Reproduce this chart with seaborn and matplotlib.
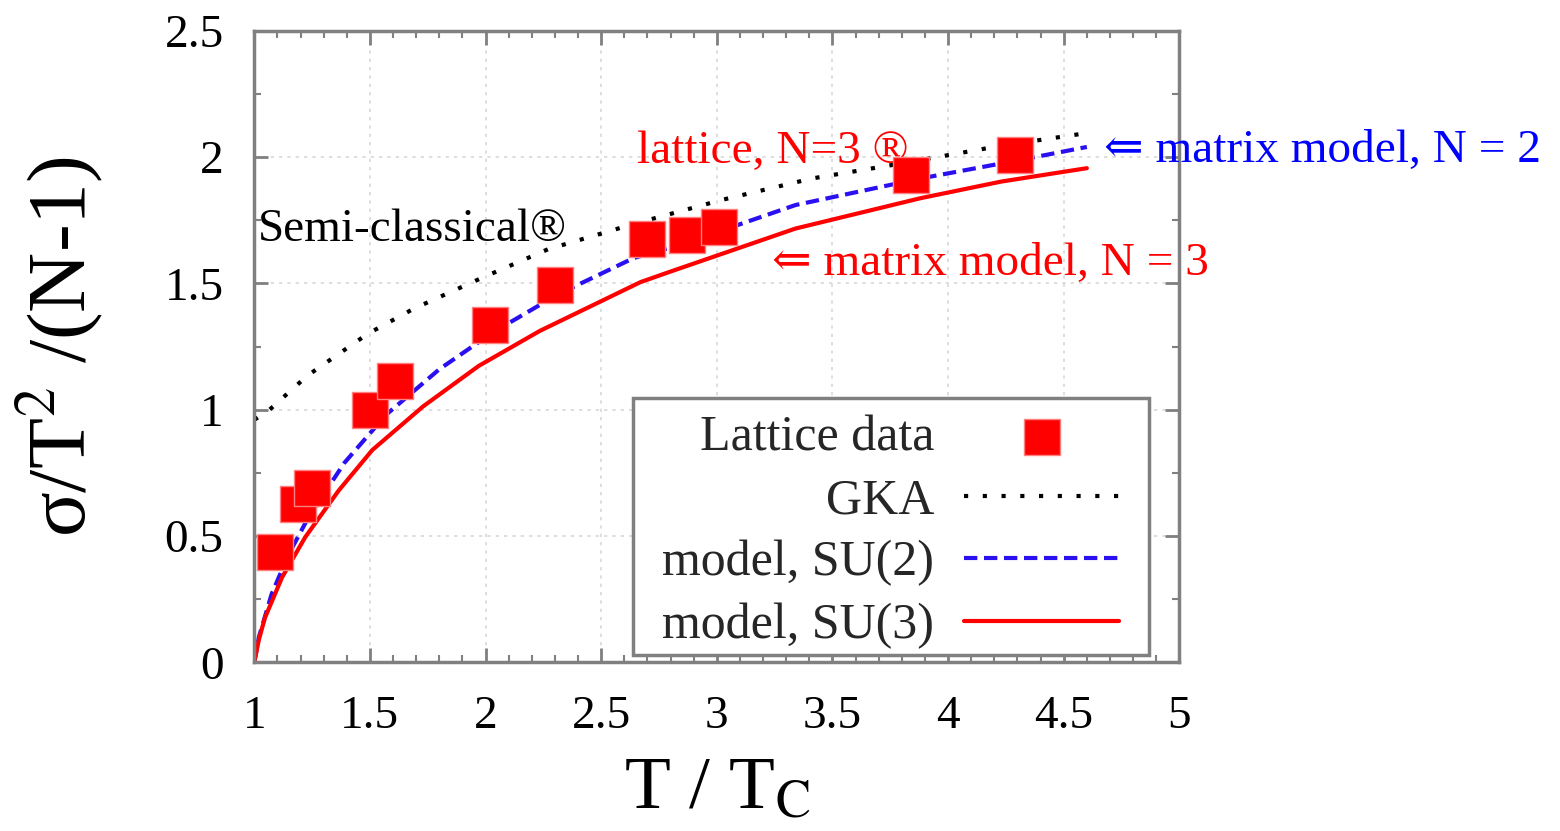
import numpy as np
import pandas as pd
import matplotlib
matplotlib.use("Agg")
import matplotlib.pyplot as plt
import seaborn as sns
from matplotlib.patches import Rectangle
from matplotlib.ticker import MultipleLocator

# lattice data points
lat_x = [1.09, 1.19, 1.25, 1.50, 1.61, 2.02, 2.30, 2.70, 2.87, 3.01, 3.84, 4.29]
lat_y = [0.435, 0.625, 0.69, 1.00, 1.115, 1.335, 1.495, 1.675, 1.69, 1.725, 1.93, 2.01]

# GKA (semi-classical) curve
gka_x = [1.0, 1.06, 1.23, 1.49, 1.69, 1.98, 2.27, 2.64, 3.02, 3.41, 3.80, 4.23, 4.6]
gka_y = [0.96, 0.995, 1.135, 1.30, 1.40, 1.52, 1.635, 1.735, 1.83, 1.915, 1.975, 2.045, 2.095]

# matrix model SU(2)
su2_x = [1.0, 1.02, 1.075, 1.15, 1.235, 1.39, 1.57, 1.8, 2.03, 2.31, 2.64, 2.85, 3.34, 3.88, 4.32, 4.6]
su2_y = [0.0, 0.10, 0.27, 0.43, 0.575, 0.79, 0.98, 1.16, 1.305, 1.455, 1.60, 1.655, 1.81, 1.915, 1.99, 2.04]

# matrix model SU(3)
su3_x = [1.0, 1.02, 1.046, 1.12, 1.22, 1.365, 1.51, 1.73, 1.97, 2.235, 2.67, 2.81, 3.34, 3.88, 4.23, 4.6]
su3_y = [0.0, 0.09, 0.176, 0.336, 0.495, 0.68, 0.84, 1.013, 1.173, 1.312, 1.505, 1.55, 1.717, 1.837, 1.903, 1.956]

sns.set_style("ticks")
plt.rcParams["font.family"] = ["Liberation Serif", "DejaVu Serif"]
plt.rcParams["mathtext.fontset"] = "stix"

RED = "#ff0000"
BLUE = "#2a10f0"
GRAY = "#808080"

fig = plt.figure(figsize=(15.6, 8.31), dpi=100)
ax = fig.add_axes([0.163, 0.203, 0.593, 0.760])

sns.lineplot(x=gka_x, y=gka_y, ax=ax, color="black", lw=3,
             linestyle=(0, (1, 3.5)), label="GKA", sort=False)
sns.lineplot(x=su2_x, y=su2_y, ax=ax, color=BLUE, lw=3,
             linestyle=(0, (3.2, 1.6)), label="model, SU(2)", sort=False)
sns.lineplot(x=su3_x, y=su3_y, ax=ax, color=RED, lw=3,
             label="model, SU(3)", sort=False)
sns.scatterplot(x=lat_x, y=lat_y, ax=ax, marker="s", s=640, color=RED,
                edgecolor="#ff8080", linewidth=1, label="Lattice data", zorder=5)

ax.set_xlim(1, 5)
ax.set_ylim(0, 2.5)
ax.xaxis.set_minor_locator(MultipleLocator(0.1))
ax.yaxis.set_minor_locator(MultipleLocator(0.25))
ax.set_xticks([1, 1.5, 2, 2.5, 3, 3.5, 4, 4.5, 5])
ax.set_xticklabels(["1", "1.5", "2", "2.5", "3", "3.5", "4", "4.5", "5"])
ax.set_yticks([0, 0.5, 1, 1.5, 2, 2.5])
ax.set_yticklabels(["0", "0.5", "1", "1.5", "2", "2.5"])
ax.tick_params(which="both", direction="in", top=True, right=True, color=GRAY)
ax.tick_params(which="major", length=10, width=2, labelsize=34, labelcolor="black")
ax.tick_params(axis="x", which="major", pad=24)
ax.tick_params(axis="y", which="major", pad=22)
ax.tick_params(which="minor", length=5, width=1.5)
ax.grid(True, which="major", color="#d8d8d8", linestyle=(0, (2, 3)), lw=1.2)
for sp in ax.spines.values():
    sp.set_color(GRAY)
    sp.set_linewidth(2.5)

ax.set_xlabel("T / T$_\\mathrm{C}$", fontsize=54, labelpad=14, color="black")
ax.set_ylabel("σ/T$^2$ /(N-1)", fontsize=60, labelpad=42, color="black")

# annotations
ax.text(2.654, 2.02, "lattice, N=3 ®", color=RED, fontsize=34, ha="left", va="center")
ax.text(4.676, 2.024, "⇐ matrix model, N = 2", color="#0000ff", fontsize=34,
        ha="left", va="center", clip_on=False)
ax.text(3.238, 1.579, "⇐ matrix model, N = 3", color=RED, fontsize=34, ha="left", va="center")
ax.text(1.017, 1.714, "Semi-classical®", color="black", fontsize=34, ha="left", va="center")

# legend box drawn by hand, legend itself without frame
ax.add_patch(Rectangle((0.4093, 0.0111), 0.9676 - 0.4093, 0.4184 - 0.0111,
                       transform=ax.transAxes, facecolor="white", edgecolor=GRAY,
                       lw=2.5, zorder=4))

h, l = ax.get_legend_handles_labels()
order = [l.index("Lattice data"), l.index("GKA"), l.index("model, SU(2)"), l.index("model, SU(3)")]
leg = ax.legend([h[i] for i in order], [l[i] for i in order],
                loc="lower right", bbox_to_anchor=(0.9352, 0.021), markerfirst=False,
                fontsize=36, handlelength=3.1, handletextpad=0.6, labelspacing=0.32,
                borderpad=0, borderaxespad=0, frameon=False, markerscale=1.0)
leg.set_zorder(6)
for t in leg.get_texts():
    t.set_ha("right")

fig.savefig("out.png", dpi=100)
